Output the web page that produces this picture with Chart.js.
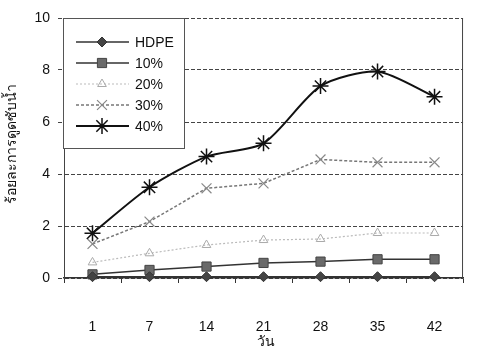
<!DOCTYPE html>
<html>
<head>
<meta charset="utf-8">
<script src="https://cdn.jsdelivr.net/npm/chart.js@4"></script>
<style>
  html, body { margin: 0; padding: 0; background: #fff; }
  #wrap { width: 479px; height: 347px; }
</style>
</head>
<body>
<div id="wrap"><canvas id="chart" width="479" height="347"></canvas></div>
<script>
var days = ["1", "7", "14", "21", "28", "35", "42"];
var seriesNames = ["HDPE", "10%", "20%", "30%", "40%"];
var hdpe = [0.05, 0.05, 0.05, 0.05, 0.05, 0.05, 0.05];
var p10 = [0.14, 0.31, 0.44, 0.58, 0.63, 0.72, 0.72];
var p20 = [0.6, 0.95, 1.27, 1.46, 1.5, 1.73, 1.73];
var p30 = [1.31, 2.17, 3.45, 3.64, 4.56, 4.45, 4.45];
var p40 = [1.72, 3.49, 4.67, 5.18, 7.38, 7.94, 6.97];
var yTicks = [0, 2, 4, 6, 8, 10];
var xTitle = "วัน";
var yTitle = "ร้อยละการดูดซับน้ำ";

var font = "'Liberation Sans', Arial, sans-serif";

function makeSet(label, data, style){
    return Object.assign({
        label: label,
        data: data,
        tension: 0,
        clip: false,
        backgroundColor: "#fff",
        borderWidth: 1.5
    }, style);
}

var dataSets = [
    makeSet(seriesNames[0], hdpe, {borderColor: "#333", pointStyle: "rectRot", pointRadius: 5, pointBackgroundColor: "#444", pointBorderColor: "#333", pointBorderWidth: 1}),
    makeSet(seriesNames[1], p10, {borderColor: "#333", pointStyle: "rect", pointRadius: 6.5, pointBackgroundColor: "#6a6a6a", pointBorderColor: "#444", pointBorderWidth: 1}),
    makeSet(seriesNames[2], p20, {borderColor: "#bbb", borderDash: [2, 2], borderWidth: 1.2, pointStyle: "triangle", pointRadius: 5, pointBackgroundColor: "rgba(0,0,0,0)", pointBorderColor: "#aaa", pointBorderWidth: 1}),
    makeSet(seriesNames[3], p30, {borderColor: "#777", borderDash: [3, 2], pointStyle: "crossRot", pointRadius: 7, pointBorderColor: "#888", pointBorderWidth: 1.2}),
    makeSet(seriesNames[4], p40, {borderColor: "#111", borderWidth: 2, tension: 0.25, pointStyle: "star", pointRadius: 8, pointBorderColor: "#111", pointBorderWidth: 1.5})
];

// legend box inside the plot, plus axis titles and right border
var boxLegend = {
    id: "boxLegend",
    beforeDatasetsDraw: function(chart){
        var ctx = chart.ctx;
        var area = chart.chartArea;
        ctx.save();
        ctx.strokeStyle = "#444";
        ctx.lineWidth = 1;
        ctx.beginPath();
        ctx.moveTo(area.right - 0.5, area.top);
        ctx.lineTo(area.right - 0.5, area.bottom);
        ctx.stroke();
        ctx.restore();
    },
    afterDraw: function(chart){
        var ctx = chart.ctx;
        var area = chart.chartArea;
        ctx.save();
        var bx = area.left - 1, by = area.top, bw = 121, bh = 130;
        ctx.fillStyle = "#fff";
        ctx.fillRect(bx, by, bw, bh);
        ctx.strokeStyle = "#555";
        ctx.lineWidth = 1;
        ctx.strokeRect(bx + 0.5, by + 0.5, bw, bh);
        ctx.font = "14px " + font;
        ctx.textBaseline = "middle";
        for(var i=0; i<chart.data.datasets.length; i++){
            var ds = chart.data.datasets[i];
            var y = by + 24 + i * 21;
            ctx.save();
            ctx.strokeStyle = ds.borderColor;
            ctx.lineWidth = ds.borderWidth;
            ctx.setLineDash(ds.borderDash || []);
            ctx.beginPath();
            ctx.moveTo(bx + 13, y);
            ctx.lineTo(bx + 66, y);
            ctx.stroke();
            ctx.restore();
            ctx.save();
            ctx.fillStyle = ds.pointBackgroundColor || "#fff";
            ctx.strokeStyle = ds.pointBorderColor;
            ctx.lineWidth = ds.pointBorderWidth;
            Chart.helpers.drawPoint(ctx, {pointStyle: ds.pointStyle, radius: ds.pointRadius, borderWidth: ds.pointBorderWidth, rotation: 0}, bx + 39, y);
            ctx.restore();
            ctx.fillStyle = "#111";
            ctx.textAlign = "left";
            ctx.fillText(ds.label, bx + 72, y + 1);
        }
        // axis titles
        ctx.fillStyle = "#111";
        ctx.font = "14px " + font;
        ctx.textAlign = "center";
        ctx.fillText(xTitle, 266, 342);
        ctx.translate(12, (area.top + area.bottom) / 2 - 4);
        ctx.rotate(-Math.PI / 2);
        ctx.fillText(yTitle, 0, 0);
        ctx.restore();
    }
};

new Chart("chart", {
    type: "line",
    data: {
        labels: days,
        datasets: dataSets
    },
    plugins: [boxLegend],
    options: {
        responsive: false,
        animation: false,
        layout: { padding: { top: 18, right: 1, left: 0, bottom: 0 } },
        plugins: {
            legend: { display: false },
            tooltip: { enabled: false }
        },
        scales: {
            x: {
                offset: true,
                afterFit: function(s){ s.height = 69; },
                border: { display: true, color: "#333", width: 1.5 },
                grid: { offset: true, drawOnChartArea: false, drawTicks: true, tickLength: 5, color: "#333" },
                ticks: { color: "#111", font: { family: font, size: 14 }, padding: 36, maxRotation: 0 }
            },
            y: {
                min: 0,
                max: 10,
                afterFit: function(s){ s.width = 64; },
                afterBuildTicks: function(s){ s.ticks = yTicks.map(function(v){ return {value: v}; }); },
                border: { display: true, color: "#444", dash: [4, 2] },
                grid: { color: "#444", tickLength: 6, lineWidth: 1, tickBorderDash: [4, 2] },
                ticks: { color: "#111", font: { family: font, size: 14 }, padding: 8 }
            }
        }
    }
});
</script>
</body>
</html>
